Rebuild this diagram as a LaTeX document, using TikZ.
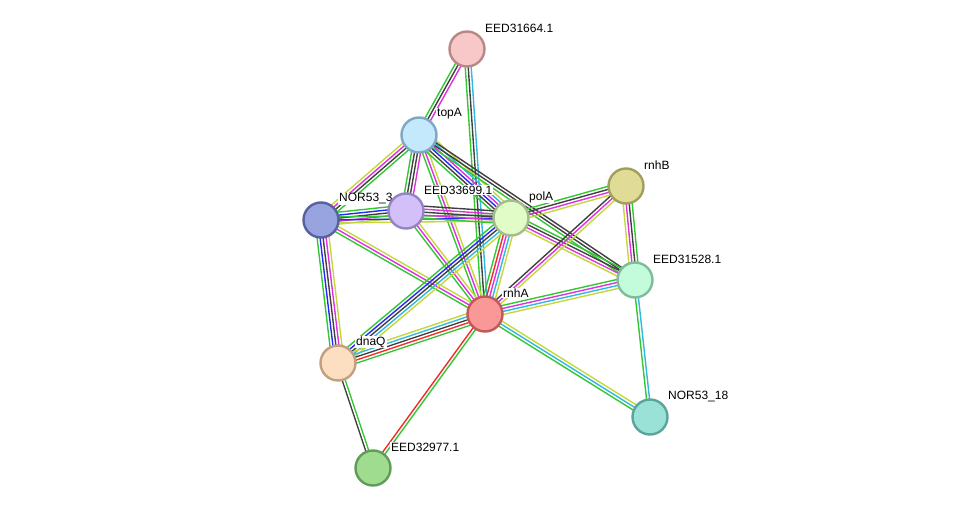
\documentclass[tikz,border=0pt]{standalone}
\usepackage{fontspec}
\setmainfont{Liberation Sans}
\usetikzlibrary{calc}
\pgfdeclarelayer{background}
\pgfsetlayers{background,main}
\definecolor{sgreen}{HTML}{33C833}
\definecolor{sred}{HTML}{F52828}
\definecolor{sblue}{HTML}{2828F5}
\definecolor{scyan}{HTML}{30B8E0}
\definecolor{smag}{HTML}{E030E0}
\definecolor{syel}{HTML}{C4D83C}
\definecolor{sblack}{HTML}{404040}
\tikzset{
  prot/.style={circle, minimum size=35pt, inner sep=0pt, line width=2.4pt},
  lab/.style={anchor=west, inner xsep=1pt, inner ysep=0.5pt, xshift=-1pt, fill=white,
    font=\fontsize{12pt}{14pt}\selectfont, text=black},
}
\newcommand{\sedge}[4]{%
  \foreach \c [count=\i] in {#4} {
    \pgfmathsetmacro\off{(\i-(#3+1)/2)*3}
    \draw[\c, line width=1.4pt] ($(#1)!\off pt!90:(#2)$) -- ($(#2)!\off pt!-90:(#1)$);
  }%
}
\begin{document}
\begin{tikzpicture}[x=1pt,y=-1pt]
\useasboundingbox (0,0) rectangle (975,514);
% nodes with labels
\node[prot, fill={rgb,255:red,248;green,200;blue,200}, draw={rgb,255:red,184;green,136;blue,136}] (e31664) at (467,49) {};
\node[lab] (le31664) at (485,28) {EED31664.1};
\node[prot, fill={rgb,255:red,196;green,232;blue,252}, draw={rgb,255:red,126;green,168;blue,196}] (topA) at (419,135) {};
\node[lab] (ltopA) at (437,114) {topA};
\node[prot, fill={rgb,255:red,152;green,164;blue,224}, draw={rgb,255:red,88;green,96;blue,160}] (nor3) at (321,220) {};
\node[lab] (lnor3) at (339,199) {NOR53\_3};
\node[prot, fill={rgb,255:red,212;green,192;blue,248}, draw={rgb,255:red,148;green,132;blue,196}] (e33699) at (406,211) {};
\node[lab] (le33699) at (424,190) {EED33699.1};
\node[prot, fill={rgb,255:red,226;green,252;blue,200}, draw={rgb,255:red,164;green,188;blue,140}] (polA) at (511,218) {};
\node[lab] (lpolA) at (529,197) {polA};
\node[prot, fill={rgb,255:red,224;green,220;blue,152}, draw={rgb,255:red,160;green,160;blue,92}] (rnhB) at (626,186) {};
\node[lab] (lrnhB) at (644,165) {rnhB};
\node[prot, fill={rgb,255:red,194;green,252;blue,218}, draw={rgb,255:red,128;green,188;blue,156}] (e31528) at (635,280) {};
\node[lab] (le31528) at (653,259) {EED31528.1};
\node[prot, fill={rgb,255:red,250;green,152;blue,152}, draw={rgb,255:red,192;green,88;blue,88}] (rnhA) at (485,314) {};
\node[lab] (lrnhA) at (503,293) {rnhA};
\node[prot, fill={rgb,255:red,252;green,222;blue,192}, draw={rgb,255:red,192;green,160;blue,128}] (dnaQ) at (338,363) {};
\node[lab] (ldnaQ) at (356,342) {dnaQ};
\node[prot, fill={rgb,255:red,154;green,226;blue,216}, draw={rgb,255:red,90;green,164;blue,156}] (nor18) at (650,417) {};
\node[lab] (lnor18) at (668,396) {NOR53\_18};
\node[prot, fill={rgb,255:red,160;green,220;blue,144}, draw={rgb,255:red,96;green,156;blue,88}] (e32977) at (373,468) {};
\node[lab] (le32977) at (391,447) {EED32977.1};
% edges
\begin{pgfonlayer}{background}
\sedge{e31664}{topA}{3}{sgreen,sblack,smag}
\sedge{e31664}{rnhA}{3}{sgreen,sblack,scyan}
\sedge{topA}{nor3}{4}{syel,smag,sblack,sgreen}
\sedge{topA}{e33699}{4}{sgreen,sblack,sblack,smag}
\sedge{topA}{rnhA}{3}{sgreen,smag,syel}
\sedge{topA}{polA}{6}{sgreen,sblack,sblue,smag,scyan,syel}
\sedge{topA}{e31528}{3}{sgreen,sblack,sblack}
\sedge{nor3}{e33699}{5}{syel,smag,sblack,sblue,sgreen}
\sedge{nor3}{polA}{3}{syel,sblue,sgreen}
\sedge{e33699}{polA}{5}{sgreen,smag,sblack,smag,sblack}
\sedge{e33699}{rnhA}{3}{sgreen,smag,syel}
\sedge{nor3}{rnhA}{3}{sgreen,smag,syel}
\sedge{nor3}{dnaQ}{5}{sgreen,sblue,sblack,smag,syel}
\sedge{polA}{rnhA}{5}{sgreen,sred,smag,scyan,syel}
\sedge{polA}{dnaQ}{5}{sgreen,sblue,sblack,scyan,syel}
\sedge{polA}{rnhB}{4}{syel,smag,sblack,sgreen}
\sedge{polA}{e31528}{4}{syel,smag,sblack,sgreen}
\sedge{rnhB}{e31528}{4}{syel,smag,sblack,sgreen}
\sedge{rnhB}{rnhA}{3}{sblack,smag,syel}
\sedge{e31528}{rnhA}{4}{sgreen,smag,scyan,syel}
\sedge{e31528}{nor18}{2}{sgreen,scyan}
\sedge{rnhA}{dnaQ}{5}{syel,scyan,sblack,sred,sgreen}
\sedge{rnhA}{nor18}{3}{sgreen,scyan,syel}
\sedge{rnhA}{e32977}{2}{sred,sgreen}
\sedge{dnaQ}{e32977}{2}{sblack,sgreen}
\end{pgfonlayer}
\end{tikzpicture}
\end{document}
